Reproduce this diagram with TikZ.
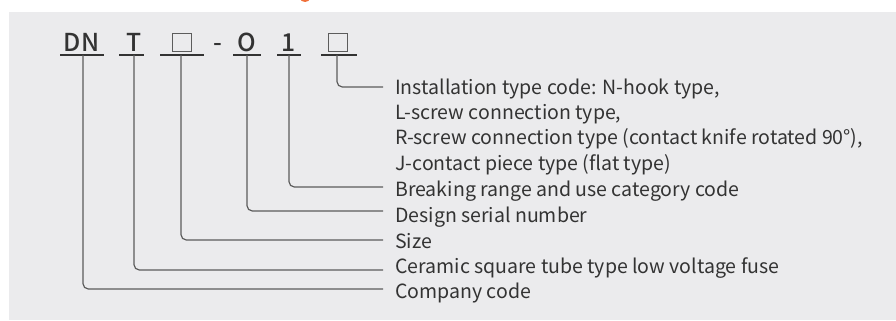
\documentclass[tikz,border=0pt]{standalone}
\usepackage{fontspec}
\setmainfont{Noto Sans CJK SC}
\newfontfamily\codefont{Noto Sans CJK SC Medium}
\definecolor{bgc}{HTML}{EBEBED}
\definecolor{txt}{HTML}{333333}
\definecolor{lnc}{HTML}{5C5C5C}
\definecolor{org}{HTML}{F0703A}
\begin{document}
\begin{tikzpicture}[x=0.75pt,y=-0.75pt,
  code/.style={anchor=base,inner sep=0pt,text=txt,font=\fontsize{18.5}{20}\codefont},
  boxc/.style={draw=lnc,line width=0.9pt,minimum width=14.5pt,minimum height=14pt,inner sep=0pt},
  lbl/.style={anchor=base west,inner sep=0pt,text=txt,font=\fontsize{14.65}{18}\selectfont},
  uline/.style={draw=txt,line width=1.1pt},
  conn/.style={draw=lnc,line width=0.9pt,rounded corners=4pt}]
\useasboundingbox (0,0) rectangle (896,321);
\fill[white] (0,0) rectangle (896,321);
\fill[bgc] (9,12) rectangle (896,320);
\fill[org] (305,-2) ellipse (5 and 4);
% code letters
\node[code] (dn) at (81.5,52) {DN};
\node[code] (t) at (134,52) {T};
\node[boxc] (b1) at (182,42.5) {};
\node[code] (dash) at (218,52) {-};
\node[code] (o) at (247,52) {O};
\node[code] (one) at (289,52) {1};
\node[boxc] (b2) at (338,42.5) {};
% underlines
\draw[uline] (60,55) -- (104,55);
\draw[uline] (119,55) -- (144,55);
\draw[uline] (160,55) -- (204,55);
\draw[uline] (233,55) -- (261,55);
\draw[uline] (277,55) -- (301,55);
\draw[uline] (321,55) -- (357,55);
% connector start points
\coordinate (uDN) at (83,55);
\coordinate (uT) at (134,55);
\coordinate (uB1) at (181,55);
\coordinate (uO) at (247,55);
\coordinate (uOne) at (289,55);
\coordinate (uB2) at (337,55);
% connector end points
\coordinate (eB2) at (383,87);
\coordinate (eOne) at (383,187);
\coordinate (eO) at (383,211);
\coordinate (eB1) at (383,240);
\coordinate (eT) at (383,270);
\coordinate (eDN) at (383,289);
% labels
\node[lbl] (l1) at (395,94) {Installation type code: N-hook type,};
\node[lbl] (l2) at (395,119) {L-screw connection type,};
\node[lbl] (l3) at (395,144) {R-screw connection type (contact knife rotated 90°),};
\node[lbl] (l4) at (395,170) {J-contact piece type (flat type)};
\node[lbl] (l5) at (395,196) {Breaking range and use category code};
\node[lbl] (l6) at (395,222) {Design serial number};
\node[lbl] (l7) at (395,248) {Size};
\node[lbl] (l8) at (395,273) {Ceramic square tube type low voltage fuse};
\node[lbl] (l9) at (395,298) {Company code};
% connectors
\draw[conn] (uB2) |- (eB2);
\draw[conn] (uOne) |- (eOne);
\draw[conn] (uO) |- (eO);
\draw[conn] (uB1) |- (eB1);
\draw[conn] (uT) |- (eT);
\draw[conn] (uDN) |- (eDN);
\end{tikzpicture}
\end{document}
